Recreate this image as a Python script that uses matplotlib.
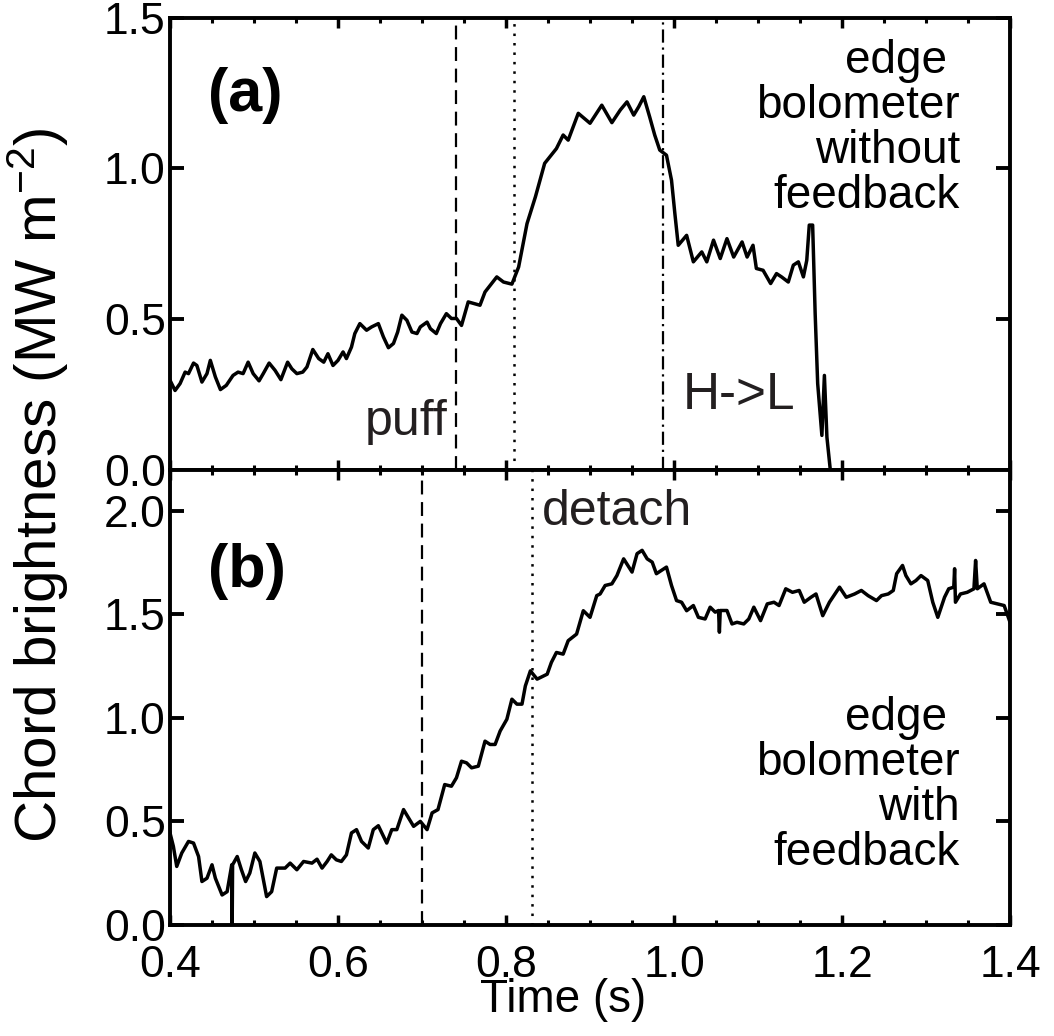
"""Edge bolometer chord brightness, without (a) and with (b) feedback."""

import matplotlib
matplotlib.use("Agg")
import matplotlib.pyplot as plt
from matplotlib.ticker import MultipleLocator

plt.rcParams["font.family"] = ["Liberation Sans", "DejaVu Sans"]
plt.rcParams["mathtext.default"] = "regular"
plt.rcParams["lines.scale_dashes"] = False

# (a) edge bolometer without feedback
time_a = [0.400, 0.406, 0.412, 0.418, 0.422, 0.428, 0.432, 0.438, 0.444, 0.448,
          0.454, 0.460, 0.467, 0.475, 0.481, 0.487, 0.493, 0.499, 0.506, 0.511,
          0.518, 0.525, 0.532, 0.540, 0.545, 0.551, 0.558, 0.563, 0.570, 0.577,
          0.583, 0.588, 0.594, 0.600, 0.606, 0.610, 0.616, 0.620, 0.626, 0.634,
          0.640, 0.648, 0.654, 0.660, 0.666, 0.671, 0.676, 0.682, 0.688, 0.694,
          0.698, 0.706, 0.710, 0.717, 0.722, 0.729, 0.735, 0.741, 0.747, 0.755,
          0.769, 0.775, 0.789, 0.797, 0.807, 0.815, 0.825, 0.835, 0.846, 0.860,
          0.868, 0.874, 0.886, 0.900, 0.914, 0.926, 0.936, 0.944, 0.952, 0.958,
          0.964, 0.971, 0.977, 0.983, 0.991, 0.997, 1.001, 1.005, 1.015, 1.023,
          1.033, 1.039, 1.047, 1.055, 1.063, 1.071, 1.081, 1.087, 1.094, 1.098,
          1.106, 1.115, 1.122, 1.128, 1.136, 1.142, 1.148, 1.154, 1.158, 1.161,
          1.165, 1.168, 1.171, 1.176, 1.179, 1.182, 1.186]
bright_a = [0.297, 0.263, 0.286, 0.324, 0.319, 0.354, 0.346, 0.291, 0.319, 0.363,
            0.308, 0.266, 0.280, 0.313, 0.324, 0.319, 0.357, 0.319, 0.295, 0.319,
            0.354, 0.330, 0.299, 0.357, 0.335, 0.319, 0.324, 0.341, 0.399, 0.369,
            0.357, 0.385, 0.346, 0.363, 0.391, 0.369, 0.407, 0.452, 0.485, 0.463,
            0.474, 0.485, 0.441, 0.405, 0.419, 0.457, 0.513, 0.496, 0.457, 0.452,
            0.474, 0.490, 0.468, 0.452, 0.485, 0.518, 0.502, 0.502, 0.479, 0.557,
            0.546, 0.590, 0.640, 0.623, 0.616, 0.673, 0.817, 0.906, 1.017, 1.066,
            1.111, 1.094, 1.183, 1.150, 1.210, 1.152, 1.194, 1.221, 1.177, 1.205,
            1.238, 1.171, 1.111, 1.061, 1.044, 0.961, 0.850, 0.745, 0.778, 0.690,
            0.723, 0.690, 0.762, 0.701, 0.767, 0.706, 0.756, 0.706, 0.745, 0.668,
            0.662, 0.618, 0.651, 0.640, 0.623, 0.679, 0.690, 0.640, 0.695, 0.812,
            0.812, 0.518, 0.286, 0.114, 0.313, 0.108, 0.000]

# (b) edge bolometer with feedback
time_b = [0.400, 0.404, 0.408, 0.414, 0.422, 0.428, 0.434, 0.438, 0.444, 0.450,
          0.454, 0.462, 0.468, 0.4735, 0.4740, 0.4745, 0.480, 0.485, 0.490, 0.495,
          0.501, 0.507, 0.515, 0.521, 0.527, 0.537, 0.543, 0.551, 0.559, 0.569,
          0.575, 0.581, 0.587, 0.592, 0.598, 0.604, 0.610, 0.616, 0.622, 0.628,
          0.636, 0.642, 0.648, 0.658, 0.664, 0.670, 0.678, 0.684, 0.690, 0.698,
          0.706, 0.712, 0.719, 0.727, 0.735, 0.741, 0.747, 0.753, 0.759, 0.767,
          0.775, 0.781, 0.787, 0.793, 0.801, 0.807, 0.813, 0.819, 0.823, 0.829,
          0.837, 0.849, 0.854, 0.860, 0.868, 0.874, 0.884, 0.892, 0.900, 0.908,
          0.912, 0.918, 0.926, 0.932, 0.940, 0.950, 0.956, 0.962, 0.968, 0.974,
          0.979, 0.985, 0.991, 0.997, 1.003, 1.009, 1.015, 1.023, 1.029, 1.037,
          1.043, 1.049, 1.053, 1.054, 1.055, 1.063, 1.069, 1.075, 1.083, 1.089,
          1.095, 1.103, 1.111, 1.119, 1.125, 1.133, 1.141, 1.149, 1.155, 1.163,
          1.169, 1.177, 1.185, 1.197, 1.205, 1.215, 1.223, 1.231, 1.241, 1.247,
          1.255, 1.261, 1.265, 1.272, 1.276, 1.282, 1.288, 1.294, 1.302, 1.308,
          1.314, 1.322, 1.327, 1.333, 1.334, 1.335, 1.341, 1.349, 1.357, 1.359,
          1.361, 1.369, 1.377, 1.385, 1.393, 1.400]
bright_b = [0.443, 0.378, 0.281, 0.346, 0.402, 0.394, 0.329, 0.208, 0.224, 0.289,
            0.224, 0.143, 0.159, 0.289, 0.000, 0.289, 0.329, 0.265, 0.208, 0.249,
            0.346, 0.305, 0.135, 0.159, 0.273, 0.273, 0.297, 0.265, 0.305, 0.297,
            0.316, 0.273, 0.305, 0.337, 0.313, 0.305, 0.337, 0.443, 0.459, 0.402,
            0.370, 0.459, 0.478, 0.394, 0.459, 0.459, 0.556, 0.515, 0.475, 0.499,
            0.459, 0.540, 0.556, 0.677, 0.669, 0.710, 0.790, 0.782, 0.758, 0.766,
            0.887, 0.871, 0.871, 0.936, 0.993, 1.090, 1.066, 1.066, 1.154, 1.227,
            1.187, 1.211, 1.268, 1.316, 1.308, 1.373, 1.405, 1.518, 1.486, 1.591,
            1.599, 1.640, 1.648, 1.688, 1.769, 1.705, 1.794, 1.810, 1.769, 1.753,
            1.697, 1.713, 1.729, 1.640, 1.567, 1.559, 1.518, 1.543, 1.486, 1.478,
            1.535, 1.511, 1.519, 1.414, 1.519, 1.519, 1.454, 1.462, 1.454, 1.478,
            1.535, 1.470, 1.551, 1.559, 1.543, 1.624, 1.607, 1.616, 1.559, 1.583,
            1.599, 1.494, 1.559, 1.632, 1.583, 1.599, 1.616, 1.591, 1.567, 1.591,
            1.599, 1.616, 1.697, 1.737, 1.688, 1.648, 1.664, 1.688, 1.664, 1.559,
            1.486, 1.583, 1.624, 1.632, 1.721, 1.559, 1.599, 1.607, 1.624, 1.761,
            1.624, 1.648, 1.559, 1.551, 1.543, 1.462]

# event times (s)
puff_a, detach_a, hl_a = 0.740, 0.810, 0.9865
puff_b, detach_b = 0.7004, 0.8306

text_col = "#231f20"

fig = plt.figure(figsize=(10.54, 10.36), dpi=100)
ax_a = fig.add_axes([0.1613, 0.5466, 0.797, 0.4362])
ax_b = fig.add_axes([0.1613, 0.1076, 0.797, 0.4390])

for ax in (ax_a, ax_b):
    ax.set_xlim(0.4, 1.4)
    ax.xaxis.set_major_locator(MultipleLocator(0.2))
    ax.xaxis.set_minor_locator(MultipleLocator(0.05))
    ax.yaxis.set_major_locator(MultipleLocator(0.5))
    ax.yaxis.set_major_formatter(plt.FormatStrFormatter("%.1f"))
    ax.xaxis.set_major_formatter(plt.FormatStrFormatter("%.1f"))
    for sp in ax.spines.values():
        sp.set_linewidth(2.8)
    ax.tick_params(which="both", direction="in", top=True, right=True,
                   labelsize=32, colors="black")
    ax.tick_params(axis="x", which="major", length=7, width=2.5, pad=15)
    ax.tick_params(axis="x", which="minor", length=3.5, width=2.2)
    ax.tick_params(axis="y", which="major", length=10, width=2.8, pad=3)

ax_a.set_ylim(0, 1.5)
ax_b.set_ylim(0, 2.2)
ax_a.tick_params(axis="x", labelbottom=False)

ax_a.plot(time_a, bright_a, color="black", lw=2.5)
ax_b.plot(time_b, bright_b, color="black", lw=2.5)

ax_a.axvline(puff_a, color="black", lw=1.6, ls=(0, (10, 5.5)))
ax_a.axvline(detach_a, color="black", lw=1.8, ls=(0, (1.8, 5)))
ax_a.axvline(hl_a, color="black", lw=1.6, ls=(0, (9.5, 3.5, 1.6, 3.5)))
ax_b.axvline(puff_b, color="black", lw=1.6, ls=(0, (10, 5.5)))
ax_b.axvline(detach_b, color="black", lw=1.8, ls=(0, (1.8, 5)))

ax_a.text(0.4452, 1.2435, "(a)", fontsize=44, fontweight="bold", va="center", ha="left")
ax_b.text(0.4452, 1.706, "(b)", fontsize=44, fontweight="bold", va="center", ha="left")

ax_a.text(0.730, 0.114, "puff", fontsize=36, color=text_col, ha="right", va="baseline")
ax_a.text(1.0107, 0.2027, "H->L", fontsize=37, color=text_col, ha="left", va="baseline")
ax_b.text(0.8425, 1.931, "detach", fontsize=36, color=text_col, ha="left", va="baseline")

ax_a.text(1.3405, 1.429, "edge \nbolometer\nwithout\nfeedback", fontsize=33,
          ha="right", va="top", multialignment="right", linespacing=1.03)
ax_b.text(1.3405, 1.104, "edge \nbolometer\nwith\nfeedback", fontsize=33,
          ha="right", va="top", multialignment="right", linespacing=1.03)

fig.text(38 / 1054, 1 - 485 / 1036, "Chord brightness (MW m$^{-2}$)", fontsize=42,
         rotation=90, ha="center", va="center")
fig.text(563 / 1054, 1 - 1012 / 1036, "Time (s)", fontsize=33, ha="center", va="baseline")

fig.savefig("out.png", dpi=100)
